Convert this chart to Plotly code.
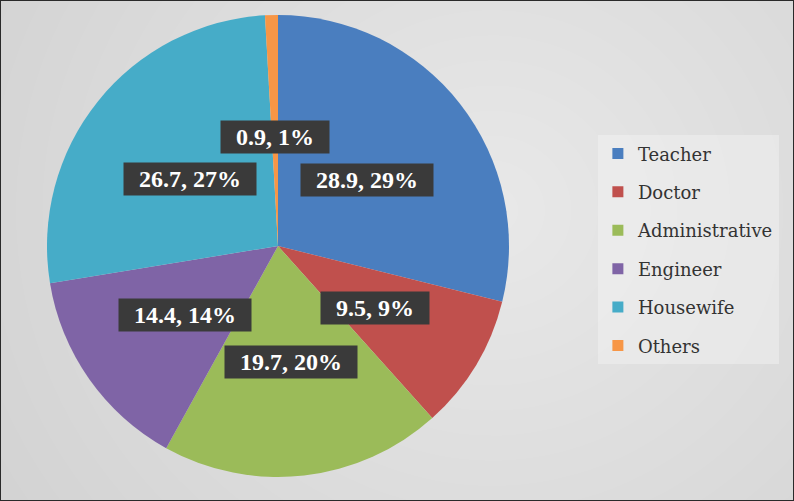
import math
import plotly.graph_objects as go

# data
labels = ["Teacher", "Doctor", "Administrative", "Engineer", "Housewife", "Others"]
values = [28.9, 9.5, 19.7, 14.4, 26.7, 0.9]
percents = ["29%", "9%", "20%", "14%", "27%", "1%"]
colors = ["#4a7ebf", "#c0504d", "#9bbb59", "#7f64a6", "#46acc8", "#f79646"]

W, H = 794, 501
# pie placement in pixels (left, right, top, bottom)
px_l, px_r, px_t, px_b = 47, 509, 15, 477

fig = go.Figure()

fig.add_trace(go.Pie(
    labels=labels, values=values, sort=False, direction="clockwise", rotation=0,
    marker=dict(colors=colors, line=dict(width=0)),
    textinfo="none", hoverinfo="label+value+percent", showlegend=False,
    domain=dict(x=[px_l / W, px_r / W], y=[1 - px_b / H, 1 - px_t / H]),
))

# legend entries as dummy traces so the spacing can be set
for lab, col in zip(labels, colors):
    fig.add_trace(go.Scatter(
        x=[None], y=[None], mode="markers", name=lab, legendgroup=lab,
        marker=dict(symbol="square", size=11, color=col),
    ))

# data labels in dark boxes, placed at the middle angle of each slice
cx, cy = (px_l + px_r) / 2, (px_t + px_b) / 2
r = min(px_r - px_l, px_b - px_t) / 2
total = sum(values)
cum = 0
annotations = []
for v, p in zip(values, percents):
    mid = (cum + v / 2) / total * 2 * math.pi
    cum += v
    lx = cx + 0.49 * r * math.sin(mid)
    ly = cy - 0.49 * r * math.cos(mid) + 4
    txt = "&nbsp;&nbsp;%s, %s&nbsp;&nbsp;" % (v, p)
    annotations.append(dict(
        x=lx / W, y=1 - ly / H, xref="paper", yref="paper",
        xanchor="center", yanchor="middle",
        text="<b>%s</b>" % txt, showarrow=False, bgcolor="#3a3a3a", borderpad=3,
        font=dict(family="Liberation Serif", size=24, color="white"),
    ))

# soft radial background
shapes = []
n = 30
for i in range(n):
    k = 1 - i / n
    shapes.append(dict(
        type="circle", xref="paper", yref="paper", layer="below",
        x0=0.62 - 1.0 * k, x1=0.62 + 1.0 * k,
        y0=0.58 - 1.5 * k, y1=0.58 + 1.5 * k,
        fillcolor="white", opacity=0.045, line=dict(width=0),
    ))
shapes.append(dict(type="rect", xref="paper", yref="paper", x0=0, y0=0, x1=1, y1=1,
                   line=dict(color="#2a2a2a", width=2)))

fig.update_layout(
    width=W, height=H,
    margin=dict(l=0, r=0, t=0, b=0),
    paper_bgcolor="#c2c2c2", plot_bgcolor="rgba(0,0,0,0)",
    xaxis=dict(visible=False), yaxis=dict(visible=False),
    shapes=shapes, annotations=annotations,
    legend=dict(
        x=0.753, y=0.73, xanchor="left", yanchor="top",
        bgcolor="rgba(245,245,245,0.45)", tracegroupgap=12,
        font=dict(family="DejaVu Serif", size=18, color="#333333"),
    ),
)

fig.write_html("out.html", config={"displayModeBar": False},
               post_script="document.body.style.margin='0';")
